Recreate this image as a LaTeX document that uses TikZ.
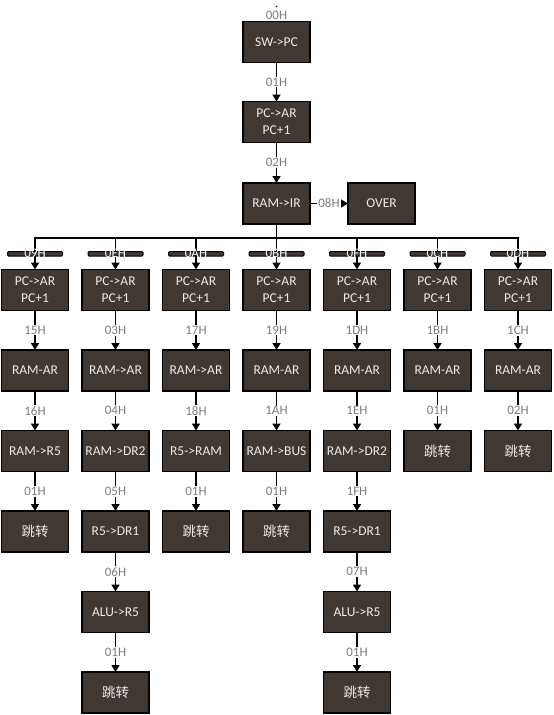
\documentclass[tikz,border=0pt]{standalone}
\usepackage{fontspec}
\setmainfont{Carlito}
\newfontfamily\cjk{Noto Sans CJK SC}
\usetikzlibrary{arrows.meta,positioning,calc}
\definecolor{boxfill}{RGB}{64,56,51}
\definecolor{boxtext}{RGB}{236,236,236}
\definecolor{lblgray}{RGB}{125,125,125}
\tikzset{
  op/.style={rectangle, draw=black, line width=1.5pt, fill=boxfill,
             text=boxtext, align=center, font=\fontsize{13.5}{17}\selectfont,
             minimum width=67pt, minimum height=41pt, inner sep=2pt,
             outer sep=0pt},
  jump/.style={op, font=\fontsize{13.5}{17}\selectfont\cjk},
  arrow/.style={-{Triangle[length=7pt,width=8pt]}, line width=1.5pt},
  wire/.style={line width=1.5pt, line cap=rect},
  lbl/.style={font=\fontsize{13}{15}\selectfont, text=lblgray,
              fill=white, inner sep=1pt},
  busbar/.style={draw=black, line width=1pt, fill=boxfill, rounded corners=1pt,
                 minimum width=55pt, minimum height=4.5pt, inner sep=0pt,
                 label={[barlbl]center:#1}},
  barlbl/.style={font=\fontsize{13}{15}\selectfont, text=white, inner sep=0pt}
}
\begin{document}
\begin{tikzpicture}[x=1pt, y=1pt, node distance=39.5pt and 13.5pt]
  \useasboundingbox (0,0) rectangle (554,-715);
  % fetch part
  \node[op] (sw) at (276.5,-42) {SW->PC};
  \node[lbl, fill=none, above=1pt of sw] (start) {00H};
  \fill ($(start.north)+(0,3)$) circle (0.9);
  \node[op, below=39pt of sw] (fetch) {PC->AR\\PC+1};
  \node[op, below=40.5pt of fetch] (ir) {RAM->IR};
  \node[op, right=38pt of ir] (over) {OVER};
  \draw[arrow] (sw) -- node[lbl]{01H} (fetch);
  \draw[arrow] (fetch) -- node[lbl]{02H} (ir);
  \draw[arrow] (ir) -- node[lbl]{08H} (over);

  % first row of the branches
  \node[op, below=45.5pt of ir] (x0B1) {PC->AR\\PC+1};
  \node[op, left=of x0B1] (x0A1) {PC->AR\\PC+1};
  \node[op, left=of x0A1] (x0E1) {PC->AR\\PC+1};
  \node[op, left=of x0E1] (x091) {PC->AR\\PC+1};
  \node[op, right=of x0B1] (x0F1) {PC->AR\\PC+1};
  \node[op, right=of x0F1] (x0C1) {PC->AR\\PC+1};
  \node[op, right=of x0C1] (x0D1) {PC->AR\\PC+1};

  % 09H
  \node[op, below=of x091] (x092) {RAM-AR};
  \node[op, below=of x092] (x093) {RAM->R5};
  \node[jump, below=of x093] (x094) {跳转};
  % 0EH
  \node[op, below=of x0E1] (x0E2) {RAM->AR};
  \node[op, below=of x0E2] (x0E3) {RAM->DR2};
  \node[op, below=of x0E3] (x0E4) {R5->DR1};
  \node[op, below=of x0E4] (x0E5) {ALU->R5};
  \node[jump, below=of x0E5] (x0E6) {跳转};
  % 0AH
  \node[op, below=of x0A1] (x0A2) {RAM->AR};
  \node[op, below=of x0A2] (x0A3) {R5->RAM};
  \node[jump, below=of x0A3] (x0A4) {跳转};
  % 0BH
  \node[op, below=of x0B1] (x0B2) {RAM-AR};
  \node[op, below=of x0B2] (x0B3) {RAM->BUS};
  \node[jump, below=of x0B3] (x0B4) {跳转};
  % 0FH
  \node[op, below=of x0F1] (x0F2) {RAM-AR};
  \node[op, below=of x0F2] (x0F3) {RAM->DR2};
  \node[op, below=of x0F3] (x0F4) {R5->DR1};
  \node[op, below=of x0F4] (x0F5) {ALU->R5};
  \node[jump, below=of x0F5] (x0F6) {跳转};
  % 0CH, 0DH
  \node[op, below=of x0C1] (x0C2) {RAM-AR};
  \node[jump, below=of x0C2] (x0C3) {跳转};
  \node[op, below=of x0D1] (x0D2) {RAM-AR};
  \node[jump, below=of x0D2] (x0D3) {跳转};

  % decode bus
  \coordinate (bus) at ($(ir.south)+(0,-14)$);
  \draw[wire] (ir.south) -- (bus);
  \draw[wire] (x091.north |- bus) -- (x0D1.north |- bus);
  \draw[arrow] (x091.north |- bus) -- node[busbar=09H]{} (x091);
  \draw[arrow] (x0E1.north |- bus) -- node[busbar=0EH]{} (x0E1);
  \draw[arrow] (x0A1.north |- bus) -- node[busbar=0AH]{} (x0A1);
  \draw[arrow] (x0B1.north |- bus) -- node[busbar=0BH]{} (x0B1);
  \draw[arrow] (x0F1.north |- bus) -- node[busbar=0FH]{} (x0F1);
  \draw[arrow] (x0C1.north |- bus) -- node[busbar=0CH]{} (x0C1);
  \draw[arrow] (x0D1.north |- bus) -- node[busbar=0DH]{} (x0D1);

  % branch arrows
  \draw[arrow] (x091) -- node[lbl]{15H} (x092);
  \draw[arrow] (x092) -- node[lbl]{16H} (x093);
  \draw[arrow] (x093) -- node[lbl]{01H} (x094);
  \draw[arrow] (x0E1) -- node[lbl]{03H} (x0E2);
  \draw[arrow] (x0E2) -- node[lbl]{04H} (x0E3);
  \draw[arrow] (x0E3) -- node[lbl]{05H} (x0E4);
  \draw[arrow] (x0E4) -- node[lbl]{06H} (x0E5);
  \draw[arrow] (x0E5) -- node[lbl]{01H} (x0E6);
  \draw[arrow] (x0A1) -- node[lbl]{17H} (x0A2);
  \draw[arrow] (x0A2) -- node[lbl]{18H} (x0A3);
  \draw[arrow] (x0A3) -- node[lbl]{01H} (x0A4);
  \draw[arrow] (x0B1) -- node[lbl]{19H} (x0B2);
  \draw[arrow] (x0B2) -- node[lbl]{1AH} (x0B3);
  \draw[arrow] (x0B3) -- node[lbl]{01H} (x0B4);
  \draw[arrow] (x0F1) -- node[lbl]{1DH} (x0F2);
  \draw[arrow] (x0F2) -- node[lbl]{1EH} (x0F3);
  \draw[arrow] (x0F3) -- node[lbl]{1FH} (x0F4);
  \draw[arrow] (x0F4) -- node[lbl]{07H} (x0F5);
  \draw[arrow] (x0F5) -- node[lbl]{01H} (x0F6);
  \draw[arrow] (x0C1) -- node[lbl]{1BH} (x0C2);
  \draw[arrow] (x0C2) -- node[lbl]{01H} (x0C3);
  \draw[arrow] (x0D1) -- node[lbl]{1CH} (x0D2);
  \draw[arrow] (x0D2) -- node[lbl]{02H} (x0D3);
\end{tikzpicture}
\end{document}
